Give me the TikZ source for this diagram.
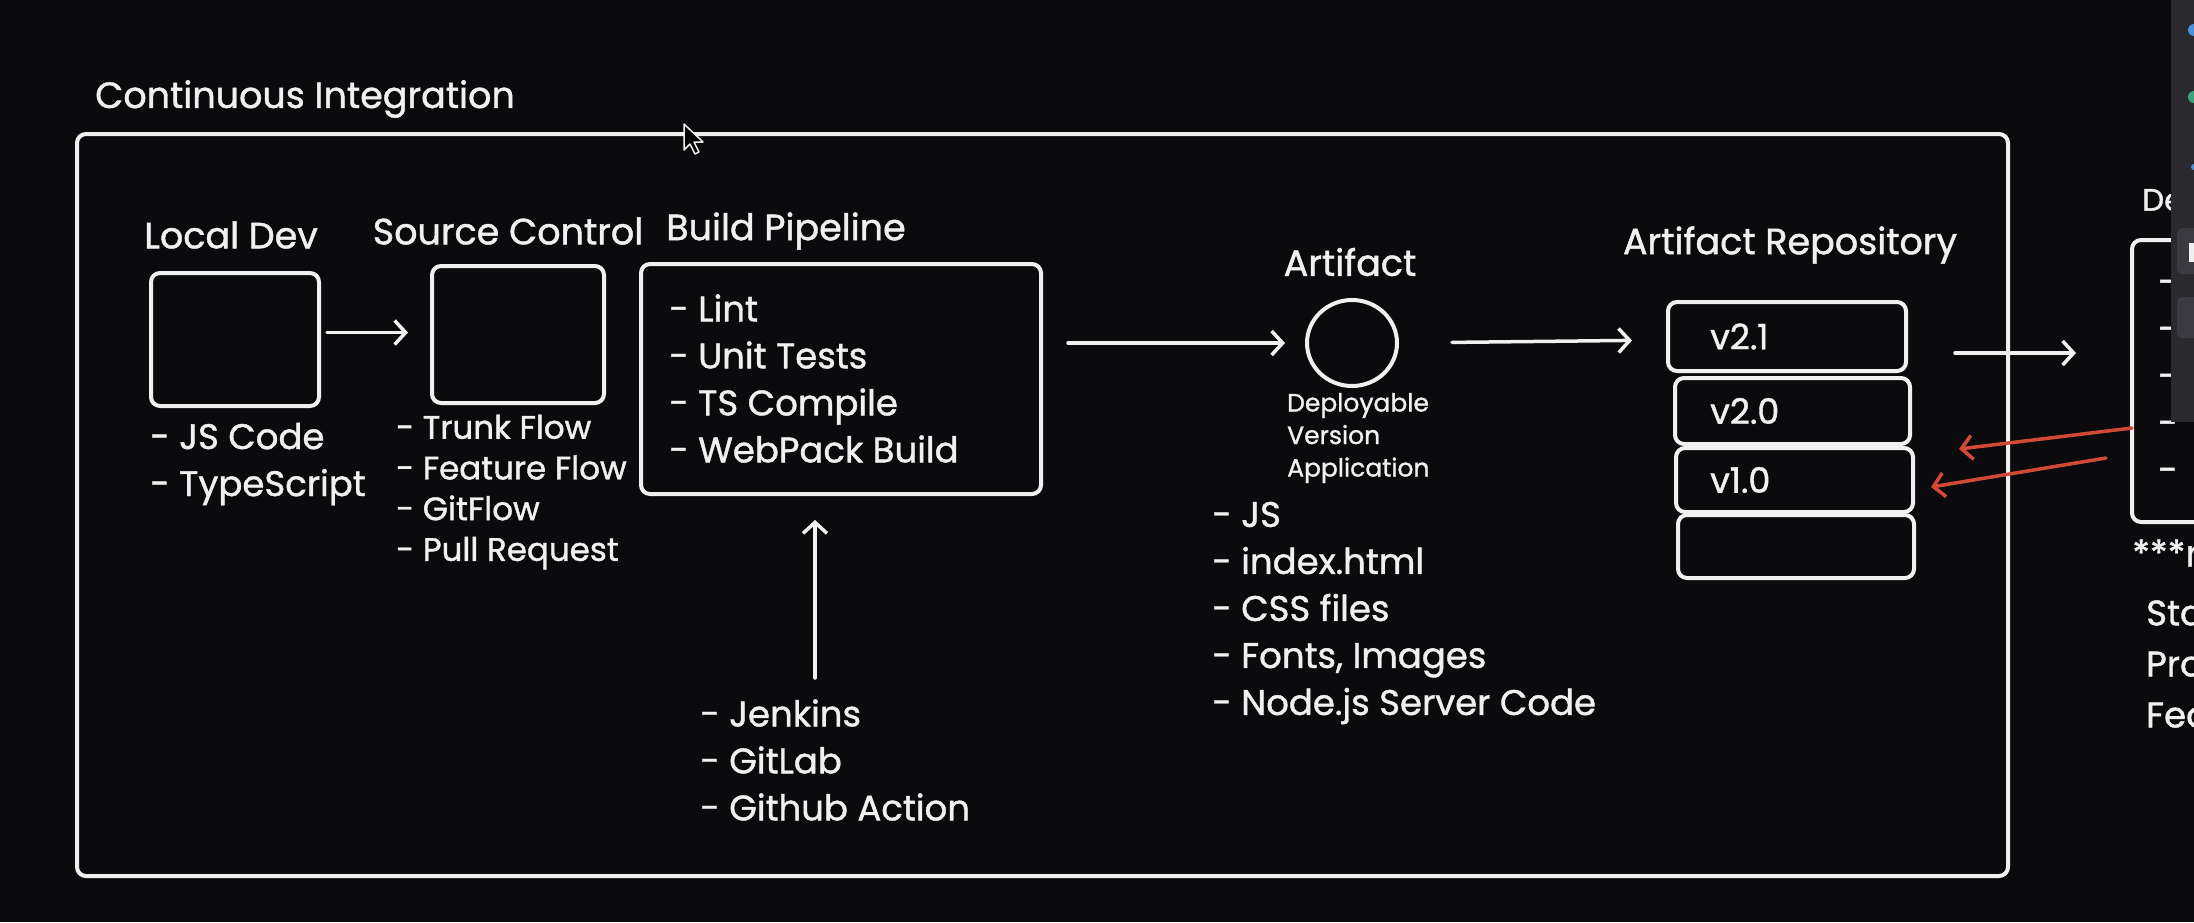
\documentclass[tikz,border=0pt]{standalone}
\usepackage{fontspec}
\setmainfont{Poppins}[FakeBold=1.2]
\usetikzlibrary{arrows.meta,shapes.geometric}
\definecolor{bg}{HTML}{0B0B0D}
\definecolor{ink}{HTML}{F0F0F0}
\definecolor{redarr}{HTML}{D24A35}
\definecolor{panel}{HTML}{29292E}
\definecolor{panelb}{HTML}{3A3A40}
\definecolor{dotblue}{HTML}{4A8FD9}
\definecolor{dotgreen}{HTML}{3AA37A}
\begin{document}
\begin{tikzpicture}[x=1pt,y=-1pt,
  every node/.style={text=ink},
  box/.style={draw=ink, line width=4pt, rounded corners=9pt, inner sep=0pt},
  roundbox/.style={draw=ink, line width=4pt, ellipse, inner sep=0pt},
  arr/.style={draw=ink, line width=3.5pt, line cap=round, -{Straight Barb[length=11pt,width=24pt,line width=3.5pt]}},
  redarrow/.style={draw=redarr, line width=3.5pt, line cap=round, -{Straight Barb[length=11pt,width=24pt,line width=3.5pt]}},
  ttl/.style={font=\fontsize{36.5}{44}\selectfont, inner sep=0pt},
  lst/.style={align=left, anchor=west, inner sep=0pt},
  big/.style={font=\fontsize{35.5}{47}\selectfont},
  mid/.style={font=\fontsize{32.5}{40.7}\selectfont},
  small/.style={font=\fontsize{25}{32.5}\selectfont},
  ver/.style={font=\fontsize{35}{40}\selectfont},
]
\useasboundingbox (0,0) rectangle (2194,922);
\clip (0,0) rectangle (2194,922);
\fill[bg] (0,0) rectangle (2194,922);

% main frame
\node[ttl, anchor=west] (citl) at (95,99) {Continuous Integration};
\node[box, minimum width=1931pt, minimum height=742pt] (ci) at (1042.5,505) {};

% local dev
\node[ttl] (ldt) at (231,235) {Local Dev};
\node[box, minimum width=168pt, minimum height=133pt] (ld) at (235,339.5) {};
\node[lst, big] (ldl) at (150,464) {- JS Code\\- TypeScript};

% source control
\node[ttl] (sct) at (508,231) {Source Control};
\node[box, minimum width=172pt, minimum height=137pt] (sc) at (518,334.5) {};
\node[lst, mid] (scl) at (396,492) {- Trunk Flow\\- Feature Flow\\- GitFlow\\- Pull Request};

% build pipeline
\node[ttl] (bpt) at (786,231) {Build Pipeline};
\node[box, minimum width=400pt, minimum height=230pt] (bp) at (841,379) {};
\node[lst, big] (bpl) at (669,378.5) {- Lint\\- Unit Tests\\- TS Compile\\- WebPack Build};
\node[lst, big] (cil) at (700,760) {- Jenkins\\- GitLab\\- Github Action};

% artifact
\node[ttl] (artt) at (1350,262) {Artifact};
\node[roundbox, minimum width=90pt, minimum height=86pt] (art) at (1352,343) {};
\node[lst, small] (artn) at (1287,438) {Deployable\\Version\\Application};
\node[lst, big] (artl) at (1212,613) {- JS\\- index.html\\- CSS files\\- Fonts, Images\\- Node.js Server Code};

% artifact repository
\node[ttl] (repot) at (1790,245) {Artifact Repository};
\node[box, minimum width=238pt, minimum height=69pt] (v21) at (1787,336.5) {};
\node[box, minimum width=235pt, minimum height=66pt] (v20) at (1792.5,411) {};
\node[box, minimum width=237pt, minimum height=64pt] (v10) at (1794.5,480) {};
\node[box, minimum width=236pt, minimum height=63pt] (v00) at (1796,546.5) {};
\node[lst, ver] (v21l) at (1710,336.5) {v2.1};
\node[lst, ver] (v20l) at (1710,411) {v2.0};
\node[lst, ver] (v10l) at (1710,480) {v1.0};

% deploy (cut off at the right edge)
\node[anchor=west, inner sep=0pt, font=\fontsize{31}{38}\selectfont] (dpt) at (2142,200) {De};
\node[box, minimum width=200pt, minimum height=282pt] (dp) at (2232,381) {};
\node[lst, big] (dpl) at (2158,381) {-\\-\\-\\-\\-};
\node[ttl, anchor=west] (dpn) at (2132,553) {***r};
\node[lst, font=\fontsize{35.5}{51}\selectfont] (envl) at (2146,664) {Sta\\Pro\\Fea};

% connectors
\coordinate (ldo) at ([yshift=7pt]ld.east);
\draw[arr, shorten <=6pt, shorten >=22pt] (ldo) -- (ldo -| sc.west);
\draw[arr, shorten <=25pt, shorten >=20pt] (bp.east |- art.west) -- (art.west);
\draw[arr, shorten <=53pt, shorten >=34pt] (art.east) -- ([yshift=-3.5pt]v21.west);
\coordinate (jk) at (815,678);
\draw[arr, shorten >=24pt] (jk) -- (jk |- bp.south);
\coordinate (v21o) at (1955,353);
\draw[arr, shorten >=54pt] (v21o) -- (v21o -| dp.west);
\coordinate (r1s) at (2132,428);
\coordinate (r1e) at (1959,449);
\coordinate (r2s) at (2106,458);
\coordinate (r2e) at (1931,487);
\draw[redarrow] (r1s) -- (r1e);
\draw[redarrow] (r2s) -- (r2e);

% mouse cursor
\draw[fill=black, draw=ink, line width=1.5pt, line join=round]
  (684,124) -- ++(0,26) -- ++(6,-6) -- ++(5,10) -- ++(4,-2) -- ++(-5,-10) -- ++(9,0) -- cycle;

% overlay panel at the right edge
\fill[panel] (2171,0) rectangle (2194,422);
\fill[panelb, rounded corners=5pt] (2177,228) rectangle (2200,274);
\fill[panelb, rounded corners=5pt] (2177,297) rectangle (2200,338);
\fill[ink] (2189,243) rectangle (2194,262);
\fill[dotblue] (2194,30) circle (6);
\fill[dotgreen] (2194,97) circle (6);
\fill[dotblue] (2194,167) circle (3);
\end{tikzpicture}
\end{document}
